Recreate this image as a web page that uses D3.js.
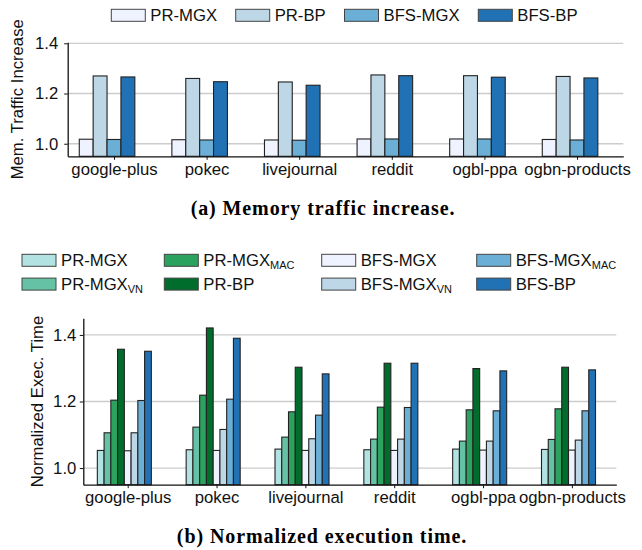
<!DOCTYPE html>
<html>
<head>
<meta charset="utf-8">
<script src="https://cdn.jsdelivr.net/npm/d3@7"></script>
<style>
  body { margin: 0; background: #fff; }
  svg { display: block; font-family: "Liberation Sans", Arial, sans-serif; }
  .caption { font-family: "Liberation Serif", "Times New Roman", serif; font-weight: bold; }
</style>
</head>
<body>
<svg></svg>
<script>
// datasets on the x axis of both panels
let datasets = ["google-plus", "pokec", "livejournal", "reddit", "ogbl-ppa", "ogbn-products"]
let yTicks = [1.0, 1.2, 1.4]

// (a) memory traffic increase
let trafficNames = ["PR-MGX", "PR-BP", "BFS-MGX", "BFS-BP"]
let prMgxTraffic = [1.018, 1.016, 1.015, 1.019, 1.019, 1.017]
let prBpTraffic = [1.270, 1.260, 1.246, 1.274, 1.271, 1.268]
let bfsMgxTraffic = [1.017, 1.015, 1.014, 1.019, 1.019, 1.015]
let bfsBpTraffic = [1.266, 1.247, 1.233, 1.271, 1.265, 1.262]

// (b) normalized execution time
let execNames = [["PR-MGX", ""], ["PR-MGX", "VN"], ["PR-MGX", "MAC"], ["PR-BP", ""],
                 ["BFS-MGX", ""], ["BFS-MGX", "VN"], ["BFS-MGX", "MAC"], ["BFS-BP", ""]]
let prMgx = [1.053, 1.055, 1.057, 1.055, 1.057, 1.056]
let prMgxVn = [1.106, 1.123, 1.093, 1.087, 1.081, 1.086]
let prMgxMac = [1.204, 1.219, 1.169, 1.183, 1.175, 1.178]
let prBp = [1.357, 1.421, 1.303, 1.315, 1.299, 1.303]
let bfsMgx = [1.052, 1.053, 1.053, 1.053, 1.054, 1.054]
let bfsMgxVn = [1.106, 1.116, 1.088, 1.087, 1.081, 1.084]
let bfsMgxMac = [1.203, 1.207, 1.159, 1.182, 1.172, 1.172]
let bfsBp = [1.351, 1.390, 1.283, 1.315, 1.292, 1.295]

let blues = ["#eff3ff", "#bdd7e7", "#6baed6", "#2171b5"]
let greens = ["#b2e2e2", "#66c2a4", "#2ca25f", "#006d2c"]

let width = 642
let height = 550
let fontSize = 16.7

let svg = d3.select("svg")
svg.attr("width", width)
svg.attr("height", height)

// one panel: grid, bars, axes, y title
let drawPanel = (p) => {
  let xScale = d3.scaleLinear().domain([-0.5, 5.5]).range([p.left, p.right])
  let yScale = d3.scaleLinear().domain(p.yDomain).range([p.bottom, p.top])
  let g = svg.append("g")

  g.selectAll(".grid")
   .data(yTicks)
   .enter()
   .append("line")
   .attr("x1", p.left)
   .attr("x2", p.right)
   .attr("y1", (d) => yScale(d))
   .attr("y2", (d) => yScale(d))
   .attr("stroke", "#cccccc")
   .attr("stroke-width", 1.3)

  let n = p.series.length
  p.series.forEach((values, j) => {
    g.selectAll(".bar" + j)
     .data(values)
     .enter()
     .append("rect")
     .attr("x", (d, i) => xScale(i + (j - n / 2) * p.barWidth - p.barWidth / 2))
     .attr("width", xScale(p.barWidth) - xScale(0))
     .attr("y", (d) => yScale(d))
     .attr("height", (d) => yScale(p.yDomain[0]) - yScale(d))
     .attr("fill", p.colors[j])
     .attr("stroke", "#222")
     .attr("stroke-width", 1.1)
  })

  let xAxis = d3.axisBottom(xScale)
                .tickValues(d3.range(datasets.length))
                .tickFormat((i) => datasets[i])
                .tickSizeInner(3.5)
                .tickSizeOuter(0)
                .tickPadding(3)
  g.append("g")
   .attr("transform", "translate(0," + p.bottom + ")")
   .call(xAxis)

  let yAxis = d3.axisLeft(yScale)
                .tickValues(yTicks)
                .tickFormat(d3.format(".1f"))
                .tickSizeInner(3.5)
                .tickSizeOuter(0)
                .tickPadding(p.yPad)
  g.append("g")
   .attr("transform", "translate(" + p.left + ",0)")
   .call(yAxis)

  g.selectAll(".domain").attr("stroke", "#111").attr("stroke-width", 1.3)
  g.selectAll(".tick line").attr("stroke", "#111").attr("stroke-width", 1)
  g.selectAll(".tick text")
   .attr("font-size", fontSize)
   .attr("font-family", "Liberation Sans, Arial, sans-serif")
   .attr("fill", "#111")

  g.append("text")
   .attr("transform", "rotate(-90)")
   .attr("x", -(p.top + p.bottom) / 2)
   .attr("y", p.titleX)
   .attr("text-anchor", "middle")
   .attr("font-size", fontSize)
   .attr("fill", "#111")
   .text(p.title)
}

// legend filled column by column at the given column positions
let drawLegend = (items, rows, colX, baselines) => {
  let g = svg.append("g")
  items.forEach((it, k) => {
    let x = colX[Math.floor(k / rows)]
    let base = baselines[k % rows]
    g.append("rect")
     .attr("x", x)
     .attr("y", base - 11.4)
     .attr("width", 34)
     .attr("height", 12)
     .attr("fill", it.color)
     .attr("stroke", "#444")
     .attr("stroke-width", 1)
    let t = g.append("text")
     .attr("x", x + 39)
     .attr("y", base)
     .attr("font-size", fontSize)
     .attr("fill", "#111")
    t.append("tspan").text(it.name)
    if (it.sub) {
      t.append("tspan")
       .attr("font-size", 11)
       .attr("dy", 3.6)
       .text(it.sub)
    }
  })
}

drawPanel({
  left: 67.7, right: 623.3, top: 42.3, bottom: 156.3,
  yDomain: [0.95, 1.404], barWidth: 0.15, yPad: 6,
  series: [prMgxTraffic, prBpTraffic, bfsMgxTraffic, bfsBpTraffic],
  colors: blues,
  title: "Mem. Traffic Increase", titleX: 23.3
})

drawPanel({
  left: 83.3, right: 616.3, top: 318.3, bottom: 484.7,
  yDomain: [0.95, 1.45], barWidth: 0.076, yPad: 3.5,
  series: [prMgx, prMgxVn, prMgxMac, prBp, bfsMgx, bfsMgxVn, bfsMgxMac, bfsBp],
  colors: greens.concat(blues),
  title: "Normalized Exec. Time", titleX: 43.3
})

// top legend, one row
drawLegend(
  trafficNames.map((d, i) => ({ name: d, sub: "", color: blues[i] })),
  1, [111.3, 235.7, 344.5, 478.3], [20.7])

// bottom legend, two rows, four columns
let execColors = greens.concat(blues)
drawLegend(
  execNames.map((d, i) => ({ name: d[0], sub: d[1], color: execColors[i] })),
  2, [22, 164.3, 321.7, 476.7], [265.7, 289.5])

svg.append("text")
   .attr("class", "caption")
   .attr("x", 323)
   .attr("y", 214.5)
   .attr("text-anchor", "middle")
   .attr("font-size", 20)
   .attr("letter-spacing", 0.9)
   .text("(a) Memory traffic increase.")

svg.append("text")
   .attr("class", "caption")
   .attr("x", 322)
   .attr("y", 543.3)
   .attr("text-anchor", "middle")
   .attr("font-size", 20)
   .attr("letter-spacing", 0.9)
   .text("(b) Normalized execution time.")
</script>
</body>
</html>
